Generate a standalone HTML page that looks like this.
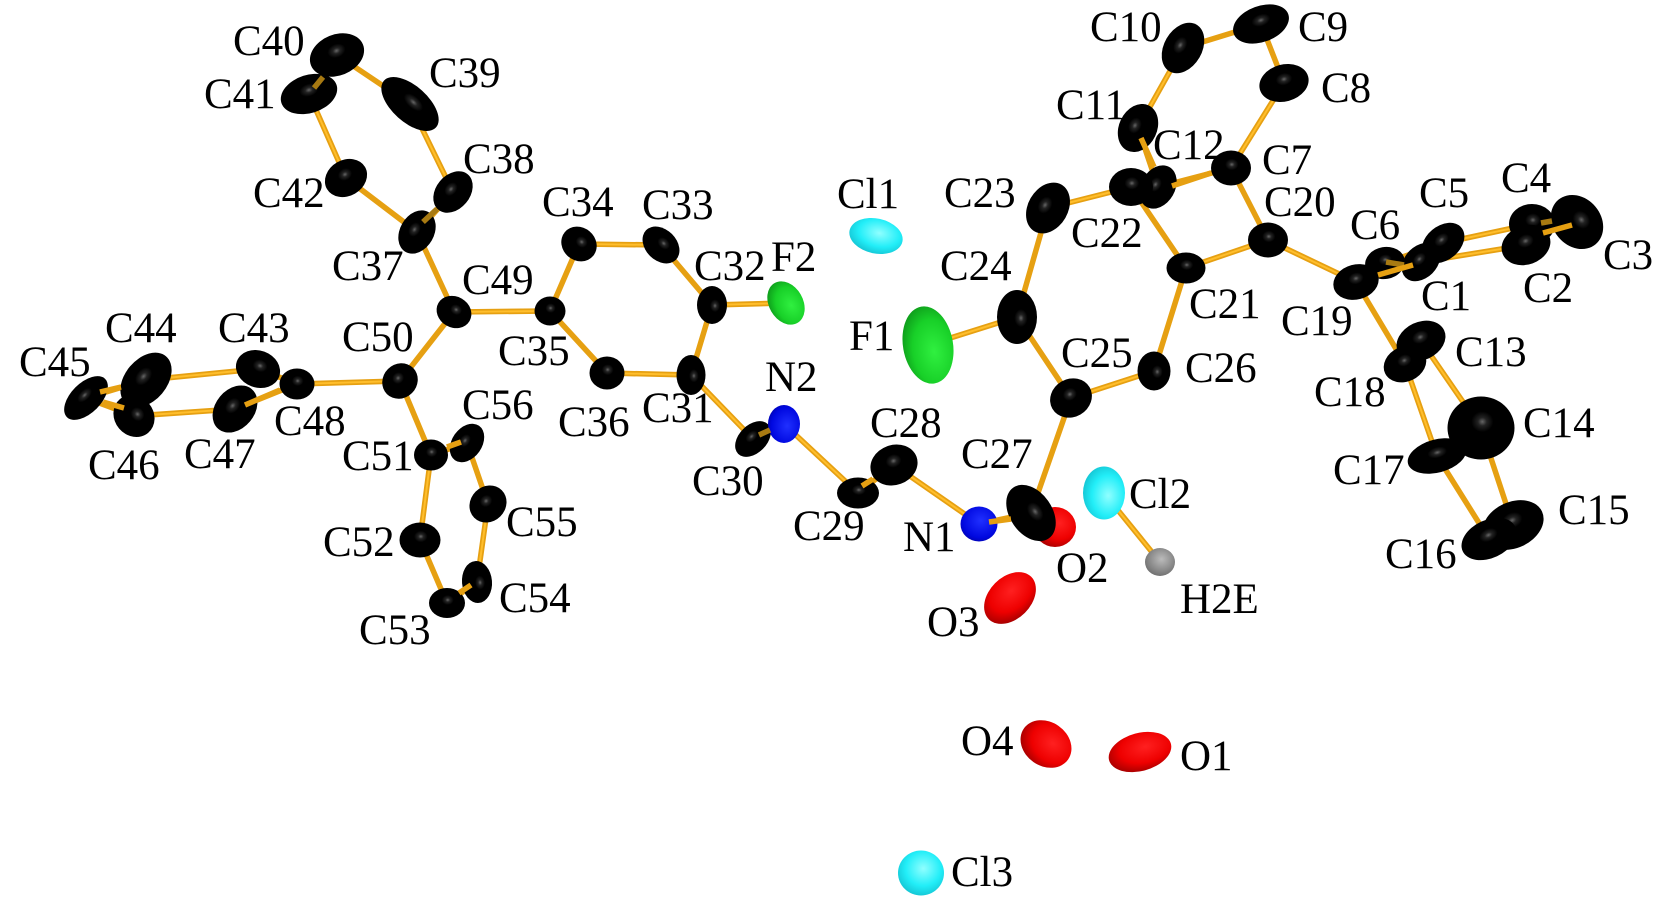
<!DOCTYPE html>
<html><head><meta charset="utf-8"><style>
html,body{margin:0;padding:0;background:#fff}
svg{display:block}
text{font-family:"Liberation Serif",serif;font-size:43px;fill:#000}
.b{stroke:#e6a012;stroke-width:5.5;stroke-linecap:butt;fill:none}
.h{stroke:#ffbe2c;stroke-width:2;fill:none}
.s{stroke:#a87a12;stroke-width:5.5;fill:none}
</style></head><body>
<svg width="1670" height="906" viewBox="0 0 1670 906" xmlns="http://www.w3.org/2000/svg">
<defs>
<radialGradient id="k" cx=".52" cy=".4" r=".55"><stop offset="0" stop-color="#666"/><stop offset=".12" stop-color="#222"/><stop offset=".3" stop-color="#000"/></radialGradient>
<radialGradient id="r" cx=".6" cy=".4" r=".75"><stop offset="0" stop-color="#ff2020"/><stop offset=".55" stop-color="#ee0000"/><stop offset="1" stop-color="#880000"/></radialGradient>
<radialGradient id="c" cx=".55" cy=".4" r=".7"><stop offset="0" stop-color="#90ffff"/><stop offset=".55" stop-color="#22eef8"/><stop offset="1" stop-color="#10b8c8"/></radialGradient>
<radialGradient id="g" cx=".6" cy=".4" r=".7"><stop offset="0" stop-color="#30f040"/><stop offset=".6" stop-color="#18d028"/><stop offset="1" stop-color="#0c9018"/></radialGradient>
<radialGradient id="n" cx=".55" cy=".4" r=".7"><stop offset="0" stop-color="#2030ff"/><stop offset=".7" stop-color="#0008e0"/><stop offset="1" stop-color="#0000a0"/></radialGradient>
<radialGradient id="a" cx=".55" cy=".4" r=".7"><stop offset="0" stop-color="#bbb"/><stop offset="1" stop-color="#666"/></radialGradient>
</defs>
<rect width="1670" height="906" fill="#fff"/>
<path class="b" d="M337 55L410 104M410 104L453 192M453 192L417 232M417 232L346 178M346 178L309 94M309 94L337 55M417 232L454 312M454 312L400 381M454 312L550 311M550 311L579 244M579 244L661 245M661 245L712 305M712 305L691 375M691 375L607 373M607 373L550 311M712 305L786 303M691 375L753 439M753 439L784 424M784 424L858 493M858 493L894 465M894 465L979 524M979 524L1031 513M1031 513L1071 398M1071 398L1154 371M1071 398L1017 317M1017 317L928 345M1017 317L1048 208M1048 208L1131 187M1131 187L1186 268M1186 268L1154 371M1186 268L1268 240M1268 240L1231 168M1231 168L1158 187M1231 168L1284 83M1284 83L1261 24M1261 24L1183 48M1183 48L1138 128M1138 128L1158 187M1268 240L1356 282M1356 282L1421 262M1385 263L1443 243M1443 243L1532 224M1421 262L1526 245M1356 282L1405 364M1421 341L1481 428M1405 364L1437 456M1481 428L1513 525M1437 456L1489 539M400 381L297 384M400 381L431 455M297 384L258 369M297 384L235 409M258 369L146 380M235 409L134 416M146 380L86 398M86 398L134 416M431 455L467 443M431 455L420 540M467 443L488 504M488 504L477 582M477 582L447 603M447 603L420 540M1104 493L1160 562"/>
<path class="h" d="M410 104L453 192M346 178L309 94M454 312L550 311M579 244L661 245M691 375L607 373M712 305L786 303M691 375L753 439M784 424L858 493M894 465L979 524M1071 398L1154 371M1017 317L928 345M1048 208L1131 187M1186 268L1268 240M1231 168L1284 83M1183 48L1138 128M1268 240L1356 282M1443 243L1532 224M1421 262L1526 245M400 381L297 384M258 369L146 380M235 409L134 416M431 455L420 540M488 504L477 582M1104 493L1160 562M1405 364L1437 456M1421 341L1481 428"/>
<!-- atoms -->
<g fill="url(#k)">
<ellipse cx="337" cy="55" rx="28" ry="20.5" transform="rotate(-22 337 55)"/>
<ellipse cx="309" cy="94" rx="29" ry="19" transform="rotate(-18 309 94)"/>
<ellipse cx="410" cy="104" rx="35" ry="18" transform="rotate(42 410 104)"/>
<ellipse cx="453" cy="192" rx="23" ry="17" transform="rotate(-50 453 192)"/>
<ellipse cx="346" cy="178" rx="22" ry="18" transform="rotate(-30 346 178)"/>
<ellipse cx="417" cy="232" rx="23" ry="17" transform="rotate(-60 417 232)"/>
<ellipse cx="454" cy="312" rx="18" ry="15.5" transform="rotate(30 454 312)"/>
<ellipse cx="550" cy="311" rx="15.5" ry="14.5"/>
<ellipse cx="579" cy="244" rx="18.5" ry="16.5" transform="rotate(40 579 244)"/>
<ellipse cx="661" cy="245" rx="21" ry="15.5" transform="rotate(45 661 245)"/>
<ellipse cx="712" cy="305" rx="19" ry="15" transform="rotate(90 712 305)"/>
<ellipse cx="691" cy="375" rx="20" ry="14.5" transform="rotate(90 691 375)"/>
<ellipse cx="607" cy="373" rx="17.5" ry="16.5"/>
<ellipse cx="400" cy="381" rx="18.5" ry="17" transform="rotate(-45 400 381)"/>
<ellipse cx="258" cy="369" rx="22.5" ry="18.5" transform="rotate(20 258 369)"/>
<ellipse cx="297" cy="384" rx="17.5" ry="15.5"/>
<ellipse cx="235" cy="409" rx="26" ry="19.5" transform="rotate(-50 235 409)"/>
<ellipse cx="134" cy="416" rx="22" ry="19.5" transform="rotate(50 134 416)"/>
<ellipse cx="146" cy="380" rx="31" ry="21" transform="rotate(-50 146 380)"/>
<ellipse cx="86" cy="398" rx="27" ry="15" transform="rotate(-45 86 398)"/>
<ellipse cx="467" cy="443" rx="21" ry="15" transform="rotate(-55 467 443)"/>
<ellipse cx="431" cy="455" rx="17" ry="15.5"/>
<ellipse cx="488" cy="504" rx="19.5" ry="17.5" transform="rotate(-45 488 504)"/>
<ellipse cx="420" cy="540" rx="20.5" ry="17.5"/>
<ellipse cx="477" cy="582" rx="21" ry="15" transform="rotate(85 477 582)"/>
<ellipse cx="447" cy="603" rx="18" ry="15"/>
<ellipse cx="753" cy="439" rx="21" ry="14" transform="rotate(-45 753 439)"/>
<ellipse cx="858" cy="493" rx="21" ry="15.5"/>
<ellipse cx="894" cy="465" rx="24" ry="20" transform="rotate(-20 894 465)"/>
<ellipse cx="1183" cy="48" rx="27" ry="19" transform="rotate(-60 1183 48)"/>
<ellipse cx="1261" cy="24" rx="29" ry="18" transform="rotate(-20 1261 24)"/>
<ellipse cx="1284" cy="83" rx="25" ry="18.5" transform="rotate(-15 1284 83)"/>
<ellipse cx="1138" cy="128" rx="25" ry="19" transform="rotate(-65 1138 128)"/>
<ellipse cx="1158" cy="187" rx="23" ry="17" transform="rotate(-60 1158 187)"/>
<ellipse cx="1131" cy="187" rx="22" ry="19"/>
<ellipse cx="1231" cy="168" rx="20" ry="17.5"/>
<ellipse cx="1048" cy="208" rx="27" ry="20" transform="rotate(-60 1048 208)"/>
<ellipse cx="1268" cy="240" rx="20" ry="17.5"/>
<ellipse cx="1186" cy="268" rx="19.5" ry="15.5"/>
<ellipse cx="1385" cy="263" rx="20" ry="16" transform="rotate(-10 1385 263)"/>
<ellipse cx="1443" cy="243" rx="24" ry="17" transform="rotate(-40 1443 243)"/>
<ellipse cx="1421" cy="262" rx="22" ry="16" transform="rotate(-45 1421 262)"/>
<ellipse cx="1356" cy="282" rx="23" ry="17.5" transform="rotate(-15 1356 282)"/>
<ellipse cx="1577" cy="222" rx="29" ry="24" transform="rotate(50 1577 222)"/>
<ellipse cx="1532" cy="224" rx="23" ry="20"/>
<ellipse cx="1526" cy="245" rx="25" ry="19.5" transform="rotate(-20 1526 245)"/>
<ellipse cx="1421" cy="341" rx="25.5" ry="19" transform="rotate(-25 1421 341)"/>
<ellipse cx="1405" cy="364" rx="22" ry="17.5" transform="rotate(-25 1405 364)"/>
<ellipse cx="1437" cy="456" rx="30" ry="16.5" transform="rotate(-15 1437 456)"/>
<ellipse cx="1481" cy="428" rx="33.5" ry="31.5"/>
<ellipse cx="1513" cy="525" rx="32" ry="23" transform="rotate(-25 1513 525)"/>
<ellipse cx="1489" cy="539" rx="29" ry="19" transform="rotate(-25 1489 539)"/>
<ellipse cx="1017" cy="317" rx="27" ry="20" transform="rotate(90 1017 317)"/>
<ellipse cx="1071" cy="398" rx="21.5" ry="19" transform="rotate(-30 1071 398)"/>
<ellipse cx="1154" cy="371" rx="19.5" ry="16.5" transform="rotate(90 1154 371)"/>
</g>
<ellipse cx="786" cy="303" rx="23" ry="17" transform="rotate(60 786 303)" fill="url(#g)"/>
<ellipse cx="928" cy="345" rx="39" ry="25" transform="rotate(80 928 345)" fill="url(#g)"/>
<ellipse cx="876" cy="236" rx="27" ry="17.5" transform="rotate(12 876 236)" fill="url(#c)"/>
<ellipse cx="784" cy="424" rx="19" ry="16" transform="rotate(90 784 424)" fill="url(#n)"/>
<ellipse cx="979" cy="524" rx="18.5" ry="17.5" fill="url(#n)"/>
<ellipse cx="1055" cy="527" rx="21" ry="20" fill="url(#r)"/>
<ellipse cx="1031" cy="513" rx="31" ry="21" transform="rotate(55 1031 513)" fill="url(#k)"/>
<ellipse cx="1104" cy="493" rx="26.5" ry="21" transform="rotate(90 1104 493)" fill="url(#c)"/>
<ellipse cx="1160" cy="562" rx="15" ry="14" fill="url(#a)"/>
<ellipse cx="1010" cy="598" rx="30" ry="21" transform="rotate(-45 1010 598)" fill="url(#r)"/>
<ellipse cx="1046" cy="744" rx="27" ry="22" transform="rotate(35 1046 744)" fill="url(#r)"/>
<ellipse cx="1140" cy="752" rx="32" ry="19" transform="rotate(-15 1140 752)" fill="url(#r)"/>
<ellipse cx="921" cy="873" rx="23" ry="22.5" fill="url(#c)"/>
<!-- bond stubs over atoms -->
<path class="s" d="M314 88L323 77M423 222L437 209M1386 262L1404 265M1541 223L1552 221M759 435L770 430"/>
<path class="b" d="M447 447L461 442M459 593L471 585M862 486L873 479M989 522L1011 519M1378 275L1413 265M1543 233L1572 225M100 392L121 387M103 402L124 408M245 405L280 390M1141 138L1154 167M1172 186L1211 173"/>
<!-- labels -->
<text x="233" y="55">C40</text><text x="204" y="108">C41</text><text x="429" y="87">C39</text><text x="463" y="173">C38</text>
<text x="253" y="207">C42</text><text x="332" y="280">C37</text><text x="462" y="294">C49</text><text x="542" y="216">C34</text>
<text x="642" y="219">C33</text><text x="694" y="280">C32</text><text x="771" y="271">F2</text><text x="498" y="365">C35</text>
<text x="342" y="351">C50</text><text x="105" y="342">C44</text><text x="218" y="342">C43</text><text x="19" y="376">C45</text>
<text x="274" y="435">C48</text><text x="558" y="436">C36</text><text x="642" y="422">C31</text><text x="765" y="391">N2</text>
<text x="462" y="419">C56</text><text x="88" y="479">C46</text><text x="184" y="468">C47</text><text x="342" y="470">C51</text>
<text x="323" y="556">C52</text><text x="506" y="536">C55</text><text x="499" y="612">C54</text><text x="359" y="644">C53</text>
<text x="692" y="495">C30</text><text x="793" y="540">C29</text>
<text x="1090" y="41">C10</text><text x="1298" y="41">C9</text><text x="1321" y="102">C8</text><text x="1056" y="119">C11</text>
<text x="1153" y="159">C12</text><text x="1262" y="174">C7</text><text x="944" y="207">C23</text><text x="1264" y="216">C20</text>
<text x="1071" y="247">C22</text><text x="1419" y="207">C5</text><text x="1501" y="192">C4</text><text x="1350" y="239">C6</text>
<text x="1603" y="269">C3</text><text x="1523" y="302">C2</text><text x="1421" y="310">C1</text><text x="1281" y="335">C19</text>
<text x="1189" y="318">C21</text><text x="940" y="280">C24</text><text x="837" y="208">Cl1</text><text x="849" y="350">F1</text>
<text x="1061" y="367">C25</text><text x="1185" y="382">C26</text><text x="1455" y="366">C13</text><text x="1314" y="406">C18</text>
<text x="1523" y="437">C14</text><text x="870" y="437">C28</text><text x="961" y="468">C27</text><text x="1129" y="508">Cl2</text>
<text x="1333" y="484">C17</text><text x="1558" y="524">C15</text><text x="1385" y="568">C16</text><text x="903" y="551">N1</text>
<text x="1056" y="582">O2</text><text x="927" y="636">O3</text><text x="1180" y="613">H2E</text><text x="961" y="755">O4</text>
<text x="1180" y="770">O1</text><text x="951" y="886">Cl3</text>
</svg>
</body></html>
